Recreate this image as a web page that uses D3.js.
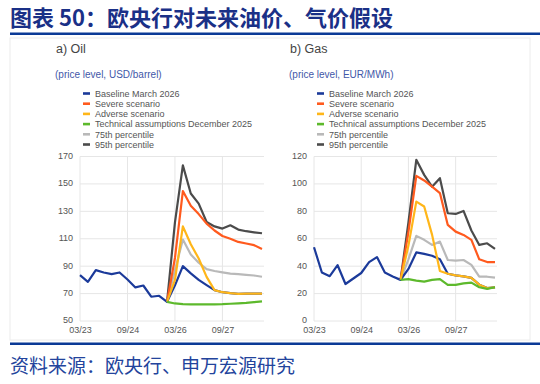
<!DOCTYPE html>
<html>
<head>
<meta charset="utf-8">
<title>ECB oil and gas price assumptions</title>
<script src="https://cdnjs.cloudflare.com/ajax/libs/d3/7.8.5/d3.min.js"></script>
<style>
    body { margin: 0; background: #fff; }
    svg text { font-family: "Liberation Sans", Arial, sans-serif; }
    svg text.cjk { font-family: "Noto Sans CJK SC", sans-serif; }
</style>
</head>
<body>
<div id="chart"></div>
<script>
// quarterly points, Q1 2023 .. Q4 2028
var quarters = d3.range(24);
var tickIdx = [0, 6, 12, 18];
var tickLabels = ["03/23", "09/24", "03/26", "09/27"];
var scenStart = 11; // scenarios branch off from Q4 2025

var seriesNames = ["Baseline March 2026", "Severe scenario", "Adverse scenario",
                   "Technical assumptions December 2025", "75th percentile", "95th percentile"];
var seriesColors = ["#1b3a9a", "#ff5a1e", "#ffb619", "#5db92c", "#b9b9b9", "#4b4b4b"];

// oil, USD/barrel
var oilBaseline = [83.5, 78.6, 87.1, 85.4, 84.2, 85.4, 80.3, 74.5, 75.9, 67.7, 68.4, 64,
                   76, 90, 84.7, 80, 76.2, 72.5, 71, 70.3, 69.8, 70, 70, 70];
var oilSevere   = [64, 96, 144.8, 134, 128, 121, 116, 112, 110, 107.7, 106.5, 105.3, 102.6];
var oilAdverse  = [64, 80, 119, 106, 95.6, 82.2, 72.5, 71, 70.3, 69.8, 70, 70, 70];
var oilTech     = [64, 62.8, 62.3, 62.2, 62.2, 62.2, 62.2, 62.3, 62.6, 62.9, 63.2, 63.7, 64.3];
var oilP75      = [64, 87, 109.4, 98.5, 92.5, 87.8, 86.5, 85.5, 84.5, 84.2, 83.7, 83.2, 82.3];
var oilP95      = [64, 122, 163.5, 143, 135.6, 122.2, 119, 117.4, 119.8, 116.7, 115.5, 114.7, 114];
var oilTicks    = [50, 70, 90, 110, 130, 150, 170];

// gas, EUR/MWh
var gasBaseline = [53.8, 35.4, 32.7, 40.7, 27, 31, 35, 42.9, 46.6, 35.4, 32.5, 30,
                   38, 50, 49, 47.6, 45.1, 34.5, 33.3, 32.6, 31.5, 26.5, 24, 24.5];
var gasSevere   = [30, 65, 105.9, 102.5, 98, 93.3, 70.1, 65.2, 62.8, 59.2, 45, 43, 42.9];
var gasAdverse  = [30, 55, 87.1, 83.5, 63, 36.5, 34.5, 33.3, 32.6, 31.5, 26.5, 24, 24.5];
var gasTech     = [30, 30.5, 29.5, 28.7, 30, 30.5, 26.3, 26.3, 27.5, 28, 24.6, 23.4, 24.6];
var gasP75      = [30, 45, 62.1, 59.2, 55.5, 57.9, 44.5, 44, 44.5, 40.9, 32.3, 32.3, 31.6];
var gasP95      = [30, 72, 117.6, 106.6, 98, 104.2, 78.6, 78.1, 80.3, 66, 55.5, 56.7, 52.6];
var gasTicks    = [0, 20, 40, 60, 80, 100, 120];

var W = 540, H = 384;
var svg = d3.select('#chart').append('svg').attr('width', W).attr('height', H);

// header and footer
svg.append('text').attr('class', 'cjk').attr('x', 10).attr('y', 26)
   .attr('font-size', 22).attr('font-weight', 700).attr('fill', '#1a3087')
   .text('图表 50：欧央行对未来油价、气价假设');
svg.append('rect').attr('x', 10).attr('y', 32.5).attr('width', 530).attr('height', 2.5).attr('fill', '#0b3a96');
svg.append('rect').attr('x', 10).attr('y', 38).attr('width', 520).attr('height', 302)
   .attr('fill', 'none').attr('stroke', '#ececec');
svg.append('rect').attr('x', 10).attr('y', 342.5).attr('width', 530).attr('height', 2.5).attr('fill', '#0b3a96');
svg.append('text').attr('class', 'cjk').attr('x', 10).attr('y', 373)
   .attr('font-size', 19).attr('fill', '#23449c')
   .text('资料来源：欧央行、申万宏源研究');

// pad scenario arrays so they line up with the quarter index
function pad(arr) {
    var out = quarters.map(function(){ return null; });
    arr.forEach(function(v, i){ out[scenStart + i] = v; });
    return out;
}

function drawPanel(p) {
    var g = svg.append('g');
    var x = d3.scaleLinear().domain([0, 23]).range([p.left, p.right]);
    var y = d3.scaleLinear().domain(p.domain).range([321, 156.5]);

    g.append('text').attr('x', p.left - 24).attr('y', 53).attr('font-size', 12.5).attr('fill', '#444').text(p.title);
    g.append('text').attr('x', p.left - 25).attr('y', 78).attr('font-size', 10).attr('fill', '#4257a8').text(p.unit);

    // legend
    var leg = g.selectAll('.leg').data(seriesNames).enter().append('g')
               .attr('transform', function(d, i){ return 'translate(' + (p.left + 3) + ',' + (93.5 + i * 10.2) + ')'; });
    leg.append('rect').attr('x', 0).attr('y', -1.3).attr('width', 7).attr('height', 2.6)
       .attr('fill', function(d, i){ return seriesColors[i]; });
    leg.append('text').attr('x', 12).attr('y', 3.3).attr('font-size', 9).attr('fill', '#555').text(function(d){ return d; });

    // grid
    g.selectAll('.hg').data(p.ticks).enter().append('line')
     .attr('x1', p.left).attr('x2', p.right + 2)
     .attr('y1', function(d){ return y(d); }).attr('y2', function(d){ return y(d); })
     .attr('stroke', '#e6e6e6');
    g.selectAll('.vg').data(tickIdx).enter().append('line')
     .attr('x1', function(d){ return x(d); }).attr('x2', function(d){ return x(d); })
     .attr('y1', y(p.domain[0])).attr('y2', y(p.domain[1]))
     .attr('stroke', '#e6e6e6');

    // axes labels
    var ya = g.append('g').attr('transform', 'translate(' + (p.left - 7) + ',-1)')
              .call(d3.axisLeft(y).tickValues(p.ticks).tickSize(0).tickPadding(0));
    ya.select('.domain').remove();
    ya.selectAll('text').attr('font-size', 9).attr('fill', '#555').attr('font-family', '"Liberation Sans", Arial, sans-serif');

    var xa = g.append('g').attr('transform', 'translate(0,' + 324 + ')')
              .call(d3.axisBottom(x).tickValues(tickIdx).tickSize(0).tickPadding(3)
                      .tickFormat(function(d, i){ return tickLabels[i]; }));
    xa.select('.domain').remove();
    xa.selectAll('text').attr('font-size', 9).attr('fill', '#555').attr('font-family', '"Liberation Sans", Arial, sans-serif');

    // lines, drawn so the baseline sits under adverse and technical on top
    var line = d3.line()
                 .defined(function(d){ return d != null; })
                 .x(function(d, i){ return x(i); })
                 .y(function(d){ return y(d); });
    var order = [5, 4, 1, 0, 2, 3];
    order.forEach(function(k){
        g.append('path').datum(p.series[k])
         .attr('d', line).attr('fill', 'none')
         .attr('stroke', seriesColors[k]).attr('stroke-width', 2.2)
         .attr('stroke-linejoin', 'round');
    });
}

drawPanel({
    title: 'a) Oil', unit: '(price level, USD/barrel)',
    left: 80, right: 262, domain: [50, 170], ticks: oilTicks,
    series: [oilBaseline, pad(oilSevere), pad(oilAdverse), pad(oilTech), pad(oilP75), pad(oilP95)]
});
drawPanel({
    title: 'b) Gas', unit: '(price level, EUR/MWh)',
    left: 314, right: 495, domain: [0, 120], ticks: gasTicks,
    series: [gasBaseline, pad(gasSevere), pad(gasAdverse), pad(gasTech), pad(gasP75), pad(gasP95)]
});
</script>
</body>
</html>
